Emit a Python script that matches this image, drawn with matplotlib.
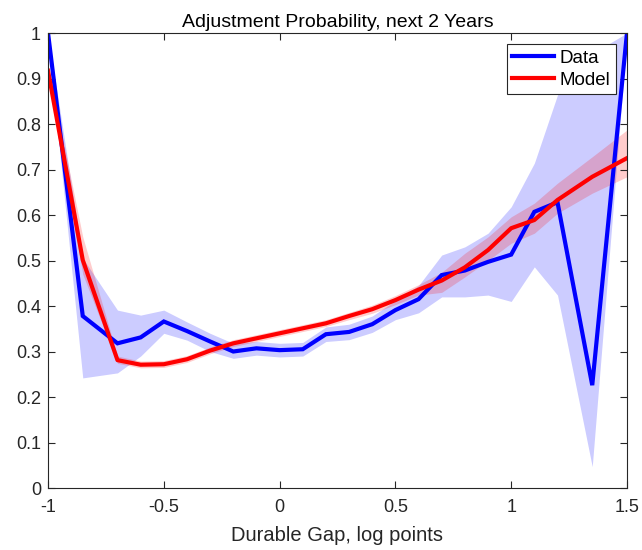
import matplotlib
matplotlib.use("Agg")
import matplotlib.pyplot as plt
import numpy as np

plt.rcParams['font.family'] = ['Liberation Sans', 'DejaVu Sans']

x = [-1.0, -0.85, -0.7, -0.6, -0.5, -0.4, -0.3, -0.2, -0.1, 0.0, 0.1, 0.2, 0.3,
     0.4, 0.5, 0.6, 0.7, 0.8, 0.9, 1.0, 1.1, 1.2, 1.35, 1.5]

data = [1.0, 0.378, 0.318, 0.331, 0.366, 0.345, 0.322, 0.300, 0.307, 0.303, 0.305,
        0.338, 0.343, 0.360, 0.391, 0.415, 0.468, 0.478, 0.497, 0.513, 0.607, 0.628,
        0.226, 1.0]
data_lo = [0.99, 0.242, 0.253, 0.290, 0.340, 0.325, 0.300, 0.285, 0.292, 0.288, 0.290,
           0.322, 0.326, 0.342, 0.370, 0.385, 0.420, 0.420, 0.424, 0.410, 0.486, 0.424,
           0.047, 0.99]
data_hi = [1.0, 0.505, 0.391, 0.380, 0.391, 0.365, 0.340, 0.318, 0.322, 0.318, 0.320,
           0.354, 0.360, 0.378, 0.412, 0.445, 0.512, 0.530, 0.560, 0.618, 0.714, 0.864,
           0.955, 1.0]

model = [0.917, 0.501, 0.281, 0.271, 0.272, 0.283, 0.302, 0.318, 0.329, 0.340, 0.351,
         0.362, 0.378, 0.393, 0.413, 0.436, 0.456, 0.485, 0.523, 0.571, 0.589, 0.633,
         0.684, 0.725]
model_lo = [0.905, 0.470, 0.274, 0.264, 0.265, 0.276, 0.295, 0.311, 0.322, 0.333, 0.344,
            0.355, 0.370, 0.384, 0.403, 0.424, 0.430, 0.464, 0.500, 0.538, 0.560, 0.604,
            0.648, 0.684]
model_hi = [0.930, 0.552, 0.290, 0.279, 0.280, 0.291, 0.310, 0.326, 0.337, 0.348, 0.359,
            0.370, 0.386, 0.402, 0.423, 0.447, 0.474, 0.516, 0.552, 0.596, 0.626, 0.670,
            0.728, 0.787]

xticks = [-1, -0.5, 0, 0.5, 1, 1.5]
xticklabels = ['-1', '-0.5', '0', '0.5', '1', '1.5']
yticks = [0, 0.1, 0.2, 0.3, 0.4, 0.5, 0.6, 0.7, 0.8, 0.9, 1.0]
yticklabels = ['0', '0.1', '0.2', '0.3', '0.4', '0.5', '0.6', '0.7', '0.8', '0.9', '1']

fig = plt.figure(figsize=(6.42, 5.5), dpi=100)
ax = fig.add_axes([0.0748, 0.1127, 0.9018, 0.8273])

ax.fill_between(x, data_lo, data_hi, color='#0000ff', alpha=0.2, linewidth=0)
ax.fill_between(x, model_lo, model_hi, color='#ff0000', alpha=0.2, linewidth=0)
ax.plot(x, data, color='#0000ff', linewidth=3, label='Data', solid_joinstyle='miter')
ax.plot(x, model, color='#ff0000', linewidth=3, label='Model')

ax.set_xlim(-1, 1.5)
ax.set_ylim(0, 1)
ax.set_xticks(xticks)
ax.set_xticklabels(xticklabels)
ax.set_yticks(yticks)
ax.set_yticklabels(yticklabels)
ax.tick_params(direction='in', top=True, right=True, labelsize=13, colors='#262626',
               length=5, width=0.8)
ax.tick_params(axis='x', pad=8)
ax.tick_params(axis='y', pad=5)
for s in ax.spines.values():
    s.set_color('#262626')
    s.set_linewidth(0.8)

ax.set_title('Adjustment Probability, next 2 Years', fontsize=14, color='#000000', pad=4)
ax.set_xlabel('Durable Gap, log points', fontsize=14.5, color='#262626', labelpad=7)

leg = ax.legend(loc='upper right', fontsize=13.5, fancybox=False, framealpha=1,
                edgecolor='#262626', borderpad=0.3, labelspacing=0.25,
                handlelength=2.2, handletextpad=0.3, borderaxespad=0.6)
leg.get_frame().set_linewidth(0.8)

fig.savefig('out.png', dpi=100)
